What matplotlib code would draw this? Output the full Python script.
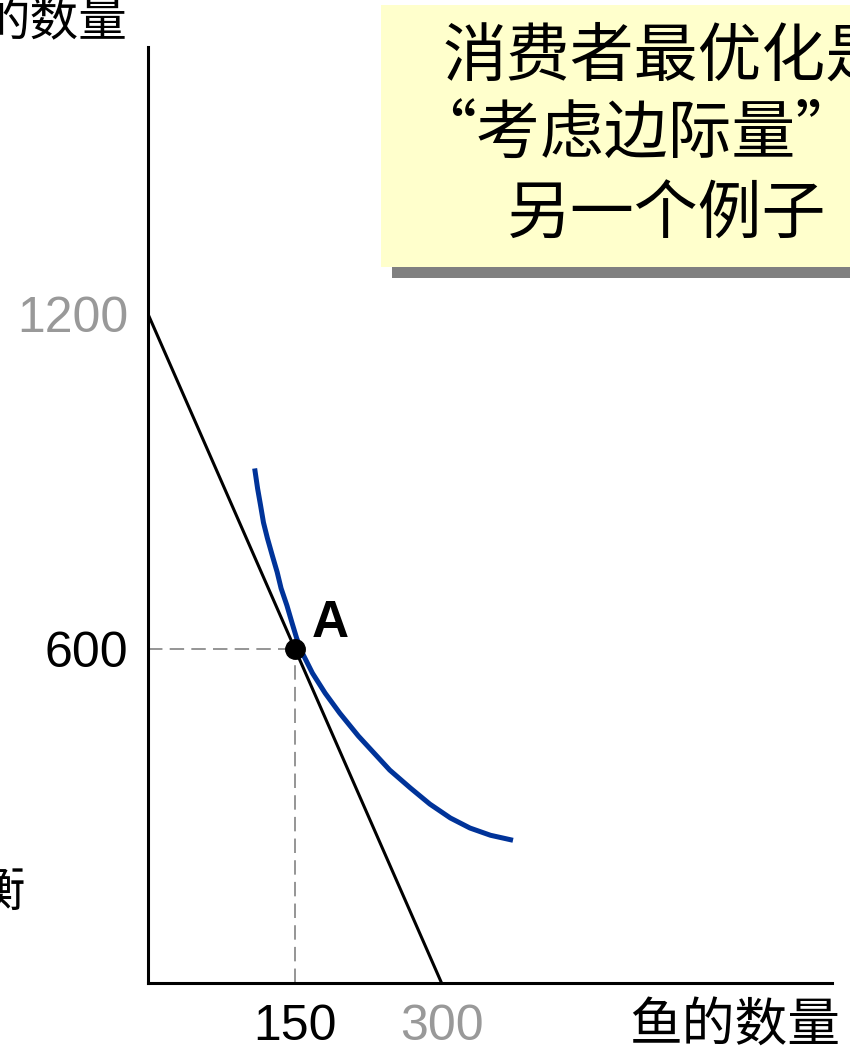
import matplotlib
matplotlib.use("Agg")
import matplotlib.pyplot as plt
from matplotlib.patches import Rectangle

# ---- data ----
budget_x = [0, 300]
budget_y = [1200, 0]
curve_x = [109, 112, 115, 118, 122, 127, 132, 136, 142, 147, 152, 158, 168, 181,
           196, 215, 247, 268, 288, 309, 329, 350, 373]
curve_y = [923, 887, 857, 826, 798, 767, 737, 708, 677, 647, 618, 591, 556, 520,
           484, 443, 382, 350, 321, 296, 278, 265, 256]
point_x, point_y = 150, 600
point_label = "A"
xtick_vals = [150, 300]
xtick_labels = ["150", "300"]
xtick_colors = ["black", "#999999"]
ytick_vals = [600, 1200]
ytick_labels = ["600", "1200"]
ytick_colors = ["black", "#999999"]
title_lines = ["消费者最优化是", "“考虑边际量”的", "另一个例子"]
xlabel = "鱼的数量"
ylabel = "的数量"

W, H = 850, 1054
fig = plt.figure(figsize=(W / 100, H / 100), dpi=100)
CJK = ["Noto Sans CJK SC", "DejaVu Sans"]
LAT = ["Liberation Sans", "DejaVu Sans"]

def fx(px):
    return px / W

def fy(py):
    return 1 - py / H

ax = fig.add_axes([fx(148), fy(983), fx(832) - fx(148), fy(47) - fy(983)])
ax.set_xlim(0, 699)
ax.set_ylim(0, 1679)
for s in ["top", "right"]:
    ax.spines[s].set_visible(False)
for s in ["left", "bottom"]:
    ax.spines[s].set_linewidth(2.2)
    ax.spines[s].set_color("black")

# dashed guides
ax.plot([0, point_x], [point_y, point_y], color="#8c8c8c", lw=1.3, ls=(0, (8, 4)), zorder=2)
ax.plot([point_x, point_x], [0, point_y], color="#8c8c8c", lw=1.3, ls=(0, (8, 4)), zorder=2)

ax.plot(budget_x, budget_y, color="black", lw=2.2, zorder=3, solid_capstyle="butt")
ax.plot(curve_x, curve_y, color="#003399", lw=3.6, zorder=4, solid_capstyle="butt",
        solid_joinstyle="round")
ax.plot([point_x], [point_y], "o", color="black", ms=14, zorder=5)
ax.annotate(point_label, (point_x, point_y), xytext=(12, 8), textcoords="offset points",
            fontsize=37, fontweight="bold", family=LAT, ha="left", va="baseline")

ax.set_xticks(xtick_vals)
ax.set_xticklabels(xtick_labels, family=LAT, fontsize=36)
for lab, c in zip(ax.get_xticklabels(), xtick_colors):
    lab.set_color(c)
ax.set_yticks(ytick_vals)
ax.set_yticklabels(ytick_labels, family=LAT, fontsize=36)
for lab, c in zip(ax.get_yticklabels(), ytick_colors):
    lab.set_color(c)
ax.tick_params(axis="both", length=0)
ax.tick_params(axis="x", pad=15)
ax.tick_params(axis="y", pad=14)

# axis titles
fig.text(fx(840), fy(1026), xlabel, family=CJK, fontsize=38, ha="right", va="center")
fig.text(fx(128), fy(22), ylabel, family=CJK, fontsize=35, ha="right", va="center")
fig.text(fx(25), fy(892), "衡", family=CJK, fontsize=35, ha="right", va="center")

# title box with shadow
fig.patches.append(Rectangle((fx(392), fy(278)), 1, fy(16) - fy(278), transform=fig.transFigure,
                             facecolor="#808080", edgecolor="none", zorder=0))
fig.patches.append(Rectangle((fx(381), fy(267)), 1, fy(5) - fy(267), transform=fig.transFigure,
                             facecolor="#FFFFCC", edgecolor="none", zorder=1))
line_x = [443, 412, 507]
line_y = [57, 136, 215]
for t, lx, ly in zip(title_lines, line_x, line_y):
    fig.text(fx(lx), fy(ly), t, family=CJK, fontsize=46, ha="left", va="center", zorder=3)

fig.savefig("out.png", dpi=100)
